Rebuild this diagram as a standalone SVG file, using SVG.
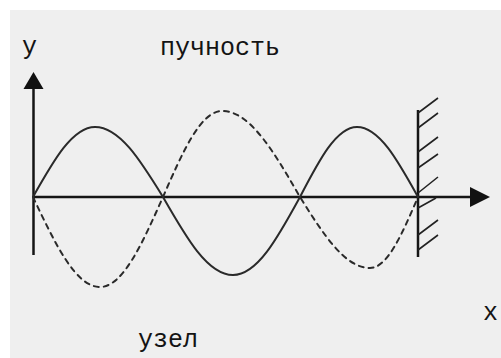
<svg xmlns="http://www.w3.org/2000/svg" width="501" height="358" viewBox="0 0 501 358">
  <style>
    .axis { stroke: #151515; stroke-width: 2.5; fill: none; }
    .wave { stroke: #2a2a2a; stroke-width: 2; fill: none; stroke-linecap: round; }
    .dash { stroke-dasharray: 5 5; }
    .hatch { stroke: #222; stroke-width: 1.6; fill: none; }
    .lbl { font-family: "Liberation Mono", "DejaVu Sans Mono", monospace; font-size: 25px; fill: #141414; }
  </style>
  <rect x="0" y="0" width="501" height="358" fill="#ffffff"/>
  <rect x="10" y="10" width="491" height="348" fill="#efefef"/>

  <g id="connectors">
    <g id="y-axis">
      <line class="axis" x1="33.5" y1="255" x2="33.5" y2="86"/>
      <path d="M33.5,72 L43.5,89 L23.5,89 Z" fill="#111"/>
    </g>
    <g id="x-axis">
      <line class="axis" x1="33" y1="197" x2="472" y2="197"/>
      <path d="M490,197 L470,187 L470,207 Z" fill="#111"/>
    </g>
  </g>

  <g id="wall">
    <line class="axis" x1="418" y1="110" x2="418" y2="257"/>
    <path class="hatch" d="M418,113 L438,98 M418,128 L438,113 M418,152 L438,137 M418,168 L438,154 M418,193 L438,177 M418,208 L436,198 M418,235 L438,220 M418,250 L438,235"/>
  </g>

  <g id="wave-solid">
    <path class="wave" d="M33,197 C53.7,160.2 72.6,127 95,127 C119.6,127 140.3,160.2 163,197 C186.4,238 207.7,275 233,275 C257.2,275 277.6,238 300,197 C319.1,160.2 336.4,127 357,127 C379.1,127 397.6,160.2 418,197"/>
  </g>

  <g id="wave-dashed">
    <path class="wave dash" d="M33,197 C55.4,244.3 75.8,287 100,287 C122.8,287 141.9,244.3 163,197 C182.7,151.8 200.7,111 222,111 C250.2,111 273.9,151.8 300,197 C323.4,234.3 344.7,268 370,268 C387.4,268 402,234.3 418,197"/>
  </g>

  <g id="labels">
    <text class="lbl" x="22" y="54">y</text>
    <text class="lbl" x="160" y="55">пучность</text>
    <text class="lbl" x="483" y="320">x</text>
    <text class="lbl" x="138" y="347">узел</text>
  </g>
</svg>
